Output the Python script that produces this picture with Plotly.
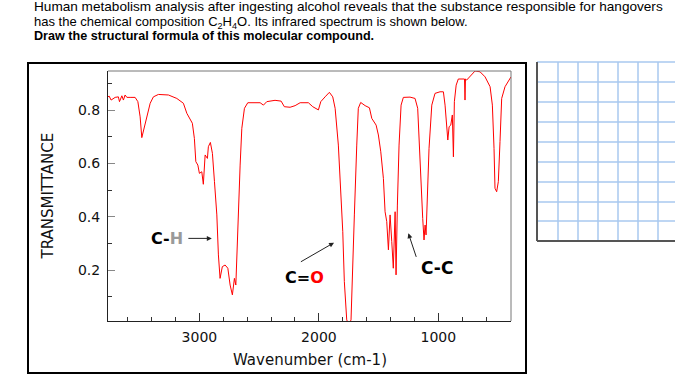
import plotly.graph_objects as go

# ---- spectrum data (wavenumber in cm-1, transmittance) ----
wavenumber = [3765, 3756, 3739, 3705, 3678, 3669, 3649, 3636, 3622, 3607, 3580, 3538, 3515,
              3496, 3482, 3463, 3440, 3412, 3385, 3343, 3259, 3189, 3134, 3105, 3059, 3042,
              3030, 3013, 3000, 2980, 2967, 2952, 2933, 2925, 2908, 2891, 2874, 2854, 2841,
              2827, 2808, 2785, 2762, 2743, 2724, 2707, 2695, 2687, 2674, 2659, 2645, 2623,
              2595, 2548, 2492, 2464, 2436, 2367, 2316, 2289, 2241, 2199, 2157, 2088, 2051,
              2004, 1984, 1948, 1912, 1884, 1864, 1837, 1817, 1800, 1787, 1767, 1757, 1740,
              1731, 1716, 1703, 1683, 1670, 1650, 1613, 1577, 1557, 1521, 1502, 1482, 1460,
              1446, 1432, 1418, 1404, 1390, 1377, 1362, 1354, 1343, 1329, 1312, 1293, 1237,
              1195, 1173, 1159, 1145, 1131, 1120, 1111, 1103, 1092, 1078, 1055, 1028, 986,
              958, 944, 930, 921, 910, 896, 883, 874, 866, 851, 833, 791, 781, 777, 773, 763,
              721, 693, 651, 609, 567, 548, 534, 526, 512, 498, 484, 470, 442, 400, 392]
transmittance = [0.850, 0.853, 0.838, 0.848, 0.850, 0.832, 0.854, 0.838, 0.857, 0.848, 0.848,
                 0.848, 0.832, 0.775, 0.697, 0.732, 0.775, 0.826, 0.850, 0.859, 0.857, 0.844,
                 0.826, 0.788, 0.751, 0.694, 0.607, 0.594, 0.563, 0.569, 0.522, 0.632, 0.619,
                 0.663, 0.679, 0.638, 0.532, 0.407, 0.257, 0.169, 0.213, 0.219, 0.207, 0.144,
                 0.107, 0.169, 0.144, 0.257, 0.407, 0.594, 0.732, 0.807, 0.828, 0.829, 0.828,
                 0.819, 0.832, 0.837, 0.834, 0.813, 0.811, 0.817, 0.828, 0.828, 0.813, 0.801,
                 0.832, 0.850, 0.867, 0.850, 0.807, 0.669, 0.494, 0.344, 0.157, 0.013, 0.004,
                 0.004, 0.013, 0.194, 0.407, 0.669, 0.807, 0.829, 0.817, 0.809, 0.769, 0.744,
                 0.707, 0.644, 0.544, 0.419, 0.382, 0.276, 0.407, 0.307, 0.207, 0.419, 0.182,
                 0.444, 0.669, 0.819, 0.848, 0.849, 0.844, 0.807, 0.669, 0.494, 0.394, 0.313,
                 0.369, 0.332, 0.469, 0.657, 0.819, 0.863, 0.869, 0.869, 0.819, 0.719, 0.688,
                 0.738, 0.744, 0.782, 0.625, 0.832, 0.894, 0.917, 0.917, 0.917, 0.838, 0.917,
                 0.913, 0.932, 0.947, 0.944, 0.925, 0.888, 0.819, 0.657, 0.507, 0.494, 0.532,
                 0.682, 0.844, 0.888, 0.917, 0.925]

x_tick_values = [3000, 2000, 1000]
x_tick_labels = ["3000", "2000", "1000"]
y_tick_values = [0.2, 0.4, 0.6, 0.8]
y_tick_labels = ["0.2", "0.4", "0.6", "0.8"]

# band annotations: label, label position, arrow tail, arrow head (data units)
band_labels = ["C-<span style='color:#9a9a9a'>H</span>",
               "C=<span style='color:#ff0000'>O</span>",
               "C-C"]
band_label_wn = [3270, 2120, 1011]
band_label_t = [0.319, 0.172, 0.207]
band_label_size = [16, 16, 17]
arrow_tail_wn = [3105, 2163, 1181]
arrow_tail_t = [0.319, 0.228, 0.244]
arrow_head_wn = [2896, 1873, 1251]
arrow_head_t = [0.319, 0.303, 0.338]

question_lines = [
    "Human metabolism analysis after ingesting alcohol reveals that the substance responsible for hangovers",
    "has the chemical composition C<sub>2</sub>H<sub>4</sub>O. Its infrared spectrum is shown below.",
    "<b>Draw the structural formula of this molecular compound.</b>",
]

W, H = 675, 375
PL, PR, PT, PB = 108, 511, 71, 321  # plot area in pixels


def xp(px):
    return (px - PL) / (PR - PL)


def yp(py):
    return (PB - py) / (PB - PT)


fig = go.Figure()
fig.add_trace(go.Scatter(x=wavenumber, y=transmittance, mode="lines",
                         line=dict(color="#ff0000", width=1), hoverinfo="skip"))

shapes = []
# outer frame
shapes.append(dict(type="rect", xref="paper", yref="paper", x0=xp(28), x1=xp(526),
                   y0=yp(373), y1=yp(63), line=dict(color="#000000", width=2)))
# top & right plot border (gray)
shapes.append(dict(type="line", xref="paper", yref="paper", x0=0, x1=1, y0=1, y1=1,
                   line=dict(color="#777777", width=1)))
shapes.append(dict(type="line", xref="paper", yref="paper", x0=1, x1=1, y0=0, y1=1,
                   line=dict(color="#777777", width=1)))
# answer grid on the right
grid_x = [558, 578, 598, 618, 638, 658]
grid_y = [62, 82, 102, 122, 142, 162, 182, 202, 221]
for gx in grid_x:
    shapes.append(dict(type="line", xref="paper", yref="paper", x0=xp(gx), x1=xp(gx),
                       y0=yp(241), y1=yp(62), line=dict(color="#a9c9ef", width=1.5)))
for gy in grid_y:
    shapes.append(dict(type="line", xref="paper", yref="paper", x0=xp(537), x1=xp(680),
                       y0=yp(gy), y1=yp(gy), line=dict(color="#a9c9ef", width=1.5)))
shapes.append(dict(type="line", xref="paper", yref="paper", x0=xp(537), x1=xp(537),
                   y0=yp(241), y1=yp(62), line=dict(color="#555555", width=2)))
shapes.append(dict(type="line", xref="paper", yref="paper", x0=xp(537), x1=xp(680),
                   y0=yp(241), y1=yp(241), line=dict(color="#555555", width=2)))

annotations = []
# question text
q_y = [6.5, 22.5, 36]
q_size = [13.6, 13, 12.6]
for txt, y, s in zip(question_lines, q_y, q_size):
    annotations.append(dict(text=txt, xref="paper", yref="paper", x=xp(32), y=yp(y),
                            xanchor="left", yanchor="middle", showarrow=False,
                            font=dict(family="Liberation Sans, Arial", size=s, color="#000")))
# axis titles
annotations.append(dict(text="Wavenumber (cm-1)", xref="paper", yref="paper", x=xp(310), y=yp(360),
                        xanchor="center", yanchor="middle", showarrow=False,
                        font=dict(family="DejaVu Sans", size=15, color="#111")))
annotations.append(dict(text="TRANSMITTANCE", xref="paper", yref="paper", x=xp(47.5), y=yp(196),
                        xanchor="center", yanchor="middle", showarrow=False, textangle=-90,
                        font=dict(family="DejaVu Sans", size=15, color="#111")))
# band labels and arrows
for lab, lx, ly, ls in zip(band_labels, band_label_wn, band_label_t, band_label_size):
    annotations.append(dict(text="<b>" + lab + "</b>", x=lx, y=ly, xref="x", yref="y",
                            showarrow=False, xanchor="center", yanchor="middle",
                            font=dict(family="DejaVu Sans", size=ls, color="#000")))
for tx, ty, hx, hy in zip(arrow_tail_wn, arrow_tail_t, arrow_head_wn, arrow_head_t):
    annotations.append(dict(text="", x=hx, y=hy, xref="x", yref="y", ax=tx, ay=ty,
                            axref="x", ayref="y", showarrow=True, arrowhead=2,
                            arrowsize=1, arrowwidth=1, arrowcolor="#222"))

fig.update_layout(
    width=W, height=H,
    margin=dict(l=PL, r=W - PR, t=PT, b=H - PB, pad=0),
    paper_bgcolor="white", plot_bgcolor="white",
    showlegend=False,
    shapes=shapes, annotations=annotations,
    xaxis=dict(range=[3765, 392], tickvals=x_tick_values, ticktext=x_tick_labels,
               ticks="inside", ticklen=8, tickcolor="#333", tickwidth=1,
               minor=dict(dtick=200, tick0=0, ticks="inside", ticklen=4, tickcolor="#333"),
               showgrid=False, zeroline=False, showline=True, linecolor="#222", linewidth=1,
               tickfont=dict(family="DejaVu Sans", size=14, color="#111"),
               ticklabelstandoff=3),
    yaxis=dict(range=[0.009, 0.947], tickvals=y_tick_values, ticktext=y_tick_labels,
               ticks="inside", ticklen=7, tickcolor="#888", tickwidth=1,
               minor=dict(dtick=0.1, tick0=0, ticks="inside", ticklen=4, tickcolor="#333"),
               showgrid=False, zeroline=False, showline=True, linecolor="#222", linewidth=1,
               tickfont=dict(family="DejaVu Sans", size=14, color="#111"),
               ticklabelstandoff=4),
)

fig.write_html("out.html",
               config={"displayModeBar": False},
               post_script="document.body.style.margin='0';document.body.style.padding='0';")
